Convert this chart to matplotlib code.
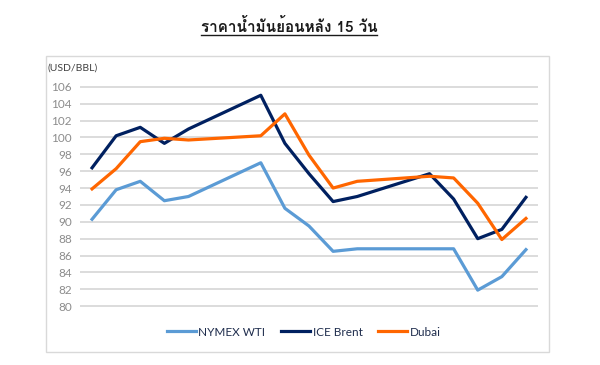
#--------importing modules-------------
import matplotlib
matplotlib.use("Agg")
import matplotlib.pyplot as plt
from matplotlib import font_manager
from matplotlib.ft2font import FT2Font
from matplotlib.patches import Rectangle
from matplotlib.lines import Line2D

#-------data-------
days = [0, 1, 2, 3, 4, 7, 8, 9, 10, 11, 14, 15, 16, 17, 18]   # calendar day offsets (weekends skipped)
wti = [90.3, 93.8, 94.8, 92.5, 93.0, 97.0, 91.6, 89.5, 86.5, 86.8, 86.8, 86.8, 81.9, 83.5, 86.7]
brent = [96.4, 100.2, 101.2, 99.3, 101.0, 105.0, 99.3, 95.7, 92.4, 93.0, 95.7, 92.7, 88.0, 89.1, 92.9]
dubai = [93.9, 96.3, 99.5, 99.9, 99.7, 100.2, 102.8, 97.9, 94.0, 94.8, 95.4, 95.2, 92.2, 87.9, 90.4]
names = ["NYMEX WTI", "ICE Brent", "Dubai"]
yticks = list(range(80, 107, 2))
title = "ราคาน้ำมันย้อนหลัง 15 วัน"
unit = "(USD/BBL)"

#-------find a font that has Thai glyphs-------
thai = None
for f in font_manager.fontManager.ttflist:
    try:
        cm = FT2Font(f.fname).get_charmap()
    except Exception:
        continue
    if 0x0E32 in cm and 0x0E19 in cm and 0x0E49 in cm:
        thai = f.name
        break
tfam = [thai, "DejaVu Sans"] if thai else ["DejaVu Sans"]
lfam = ["Lato", "DejaVu Sans"]

#-------plotting-------
fig = plt.figure(figsize=(6, 3.65), dpi=100)
fig.patches.append(Rectangle((46/600, 1-352/365), (549-46)/600, (352-56)/365,
                             transform=fig.transFigure, fill=False,
                             edgecolor="#d9d9d9", linewidth=1))

ax = fig.add_axes([80/600, 1-307/365, (538-80)/600, (307-86)/365])
ax.plot(days, wti, color="#5b9bd5", lw=2.3, label=names[0], solid_joinstyle="round")
ax.plot(days, brent, color="#002060", lw=2.3, label=names[1], solid_joinstyle="round")
ax.plot(days, dubai, color="#ff6600", lw=2.3, label=names[2], solid_joinstyle="round")

ax.set_xlim(-0.5, 18.5)
ax.set_ylim(79.9, 106.1)
ax.set_yticks(yticks)
ax.set_yticklabels([str(v) for v in yticks], family=lfam, fontsize=8.5, color="#8c8c8c")
ax.set_xticks([])
ax.tick_params(axis="y", length=0, pad=6)
for s in ax.spines.values():
    s.set_visible(False)
ax.grid(axis="y", color="#d9d9d9", lw=1.3)
ax.set_axisbelow(True)

fig.text(48/600, 1-68/365, unit, family=lfam, fontsize=7.5, color="#404040", va="center")

leg = fig.legend(loc="center", bbox_to_anchor=(0.506, 1-332/365), ncol=3, frameon=False,
                 handlelength=2.5, handletextpad=0.2, columnspacing=1.3,
                 prop={"family": lfam, "size": 8.5})
for t in leg.get_texts():
    t.set_color("#1f2d4d")

tt = fig.text(289/600, 1-26/365, title, family=tfam, fontsize=11, fontweight="bold",
              color="#1a1a1a", ha="center", va="center")

# underline the title
fig.canvas.draw()
bb = tt.get_window_extent(fig.canvas.get_renderer()).transformed(fig.transFigure.inverted())
fig.lines.append(Line2D([bb.x0, bb.x1], [1-35/365, 1-35/365], transform=fig.transFigure,
                        color="#1a1a1a", lw=1))

fig.savefig("out.png", dpi=100)
